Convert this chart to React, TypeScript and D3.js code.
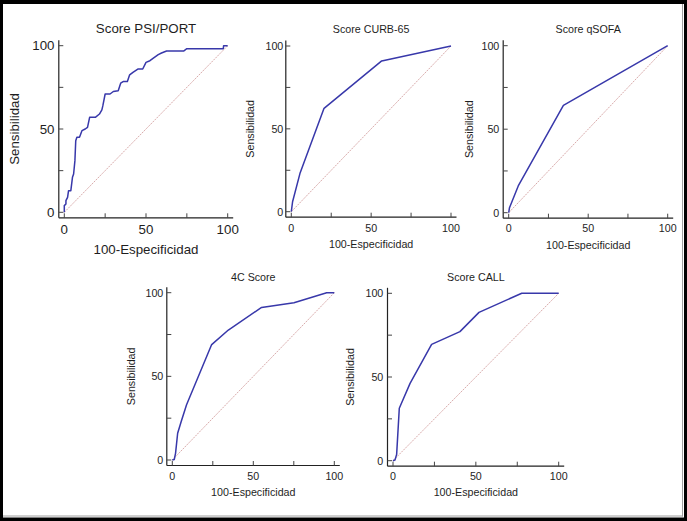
import React from "react";
import * as d3 from "d3";

// ---- Data (100-Especificidad, Sensibilidad) ----
const psiX = [0, 0, 1, 1, 2, 2.6, 4, 5, 5.7, 6.5, 7, 7.7, 9.3, 10.8, 12.8, 14.2, 15.5, 19, 21.5, 23, 23.6, 25, 28, 30, 33, 34.5, 36, 38.6, 40, 42, 45, 48, 50, 52.4, 54.5, 57.5, 59.5, 62.6, 73, 75, 97.3, 97.5, 100];
const psiY = [0, 4, 5, 7, 9, 13, 13, 21, 23, 31, 43, 45, 45, 49, 50, 51, 57, 57, 59, 61.5, 64, 71, 71, 72.5, 73, 77.5, 78.5, 78.5, 82.5, 84, 86, 86, 90, 91, 92.5, 94.6, 95.6, 96.8, 96.8, 98.2, 98.2, 100, 100];

const curbX = [0, 0.8, 5.4, 20.5, 56.6, 100];
const curbY = [0, 6, 23, 62.4, 91, 100];

const qsofaX = [0, 0.5, 6, 34.4, 100];
const qsofaY = [0, 3, 16, 64.3, 100];

const c4X = [0, 1.2, 2, 3.3, 5.5, 8.8, 24.3, 34.6, 55.1, 75.1, 95.3, 100];
const c4Y = [0, 0.3, 4, 16, 23, 33, 69, 77.7, 91.2, 94, 100, 100];

const callX = [0, 1.2, 2.2, 3.8, 10.3, 23.3, 40.4, 51.9, 77.7, 100];
const callY = [0, 0.4, 3.8, 31.3, 46.2, 69.5, 77.1, 88.6, 100, 100];

const titles = ["Score PSI/PORT", "Score CURB-65", "Score qSOFA", "4C Score", "Score CALL"];
const majorTicks = [0, 50, 100];
const minorTicks = [25, 75];
const xLabel = "100-Especificidad";
const yLabel = "Sensibilidad";

// ---- Layout ----
type Layout = {
  x0: number; x1: number; y0: number; y1: number; fs: number;
  titleY: number; xTickY: number; yTickX: number; xLabY: number; yLabX: number;
};
const layouts: Layout[] = [
  { x0: 64.3, x1: 227.7, y0: 212.3, y1: 45.7, fs: 13.3, titleY: 32.5, xTickY: 233.5, yTickX: 54.5, xLabY: 254, yLabX: 19 },
  { x0: 291.3, x1: 451, y0: 211.7, y1: 46, fs: 10.7, titleY: 33.3, xTickY: 231.5, yTickX: 283.3, xLabY: 248.3, yLabX: 254 },
  { x0: 508.7, x1: 667.7, y0: 212.7, y1: 45.7, fs: 10.7, titleY: 33.3, xTickY: 232, yTickX: 499.3, xLabY: 249.3, yLabX: 473 },
  { x0: 172.3, x1: 334.3, y0: 460, y1: 292.7, fs: 10.7, titleY: 280.7, xTickY: 480, yTickX: 163.3, xLabY: 495.5, yLabX: 135 },
  { x0: 393, x1: 558.7, y0: 460.7, y1: 293.3, fs: 10.7, titleY: 280.7, xTickY: 480, yTickX: 383.3, xLabY: 496, yLabX: 354 },
];
const series = [
  [psiX, psiY],
  [curbX, curbY],
  [qsofaX, qsofaY],
  [c4X, c4Y],
  [callX, callY],
];

const textColor = "#1e1e1e";
const font = "Liberation Sans, Arial, sans-serif";

function Panel({ idx }: { idx: number }) {
  const L = layouts[idx];
  const [xs, ys] = series[idx];
  const x = d3.scaleLinear().domain([0, 100]).range([L.x0, L.x1]);
  const y = d3.scaleLinear().domain([0, 100]).range([L.y0, L.y1]);
  const gap = 5.5;
  const tick = 4.5;
  const axX = L.x0 - gap;
  const axY = L.y0 + gap;
  const pts: [number, number][] = xs.map((v, i) => [v, ys[i]]);
  const line = d3.line<[number, number]>().x((d) => x(d[0])).y((d) => y(d[1]));
  const diag = line([[0, 0], [100, 100]]) || "";
  const midX = (L.x0 + L.x1) / 2;
  const midY = (L.y0 + L.y1) / 2;
  return (
    <g fontFamily={font} fill={textColor}>
      <text x={midX} y={L.titleY} fontSize={L.fs} textAnchor="middle">{titles[idx]}</text>
      {/* diagonal */}
      <path d={diag} stroke="#d4a0a0" strokeWidth={0.9} fill="none" strokeDasharray="2,1" />
      {/* ROC curve */}
      <path d={line(pts) || ""} stroke="#3838aa" strokeWidth={1.5} fill="none" strokeLinejoin="round" />
      {/* axes */}
      <line x1={axX} x2={axX} y1={L.y1 - gap} y2={axY} stroke="#222" strokeWidth={1.2} />
      <line x1={axX} x2={L.x1 + gap} y1={axY} y2={axY} stroke="#222" strokeWidth={1.2} />
      {[...majorTicks, ...minorTicks].map((t) => (
        <g key={"t" + t}>
          <line x1={x(t)} x2={x(t)} y1={axY} y2={axY - tick} stroke="#444" strokeWidth={1} />
          <line x1={axX} x2={axX + tick} y1={y(t)} y2={y(t)} stroke="#444" strokeWidth={1} />
        </g>
      ))}
      {majorTicks.map((t) => (
        <g key={"l" + t}>
          <text x={x(t)} y={L.xTickY} fontSize={L.fs} textAnchor="middle">{t}</text>
          <text x={L.yTickX} y={y(t)} dy="0.36em" fontSize={L.fs} textAnchor="end">{t}</text>
        </g>
      ))}
      <text x={midX} y={L.xLabY} fontSize={L.fs} textAnchor="middle">{xLabel}</text>
      <text transform={`translate(${L.yLabX},${midY}) rotate(-90)`} fontSize={L.fs} textAnchor="middle">{yLabel}</text>
    </g>
  );
}

export default function App() {
  return (
    <svg width={687} height={521} style={{ position: "absolute", left: 0, top: 0, display: "block" }}>
      <rect x={0} y={0} width={687} height={521} fill="#000" />
      <rect x={3} y={4} width={681} height={513.5} fill="#fff" />
      <line x1={682.5} x2={682.5} y1={4} y2={516.5} stroke="#a0a0a0" strokeWidth={1} />
      <line x1={3} x2={683} y1={516} y2={516} stroke="#a0a0a0" strokeWidth={1} />
      {layouts.map((_, i) => (
        <Panel key={i} idx={i} />
      ))}
    </svg>
  );
}
